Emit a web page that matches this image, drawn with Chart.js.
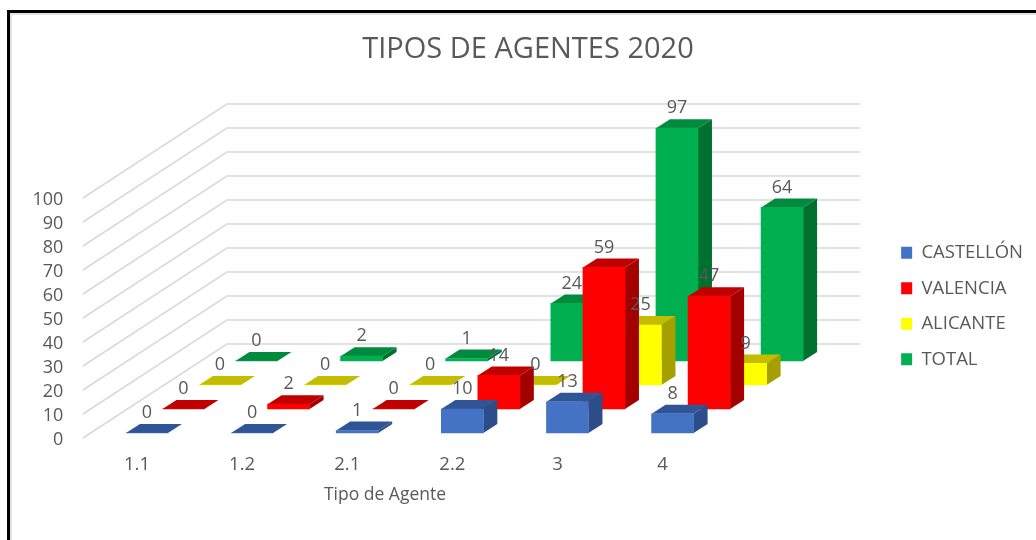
<!DOCTYPE html>
<html lang="es">
<head>
<meta charset="utf-8">
<title>Tipos de Agentes 2020</title>
<script src="https://cdn.jsdelivr.net/npm/chart.js@4"></script>
<style>
  html, body { margin: 0; padding: 0; background: #fff; }
  #wrap { position: relative; width: 1036px; height: 540px; overflow: hidden; }
  #frame {
    position: absolute; left: 7px; top: 10px; right: -10px; bottom: -10px;
    border-top: 3px solid #000; border-left: 3px solid #000;
    box-shadow: inset 2px 2px 0 #e2e2e2;
  }
  canvas { position: absolute; left: 0; top: 0; display: block; }
</style>
</head>
<body>
<div id="wrap">
  <div id="frame"></div>
  <canvas id="chart" width="1036" height="540"></canvas>
</div>
<script>
const categories = ['1.1', '1.2', '2.1', '2.2', '3', '4'];
const castellon = [0, 0, 1, 10, 13, 8];
const valencia = [0, 2, 0, 14, 59, 47];
const alicante = [0, 0, 0, 0, 25, 9];
const total = [0, 2, 1, 24, 97, 64];

const textColor = '#595959';
const fontFamily = '"Open Sans", sans-serif';

// front, top and side colour per series
const palette = [
  { front: '#4472C4', top: '#2F5597', side: '#2C4D8A' },
  { front: '#FF0000', top: '#C00000', side: '#A30000' },
  { front: '#FFFF00', top: '#C4BC00', side: '#A69F00' },
  { front: '#00B050', top: '#008A3E', side: '#00702F' },
];

// oblique projection: every series sits further back on the floor
const seriesShift = { x0: 10, y0: -5, x: 36.5, y: -24 };
const barDepth = { x: 14, y: -9 };
const wallDepth = { x: 144, y: -94 };
const wallRight = 860;

const shiftOf = (i) => ({
  x: seriesShift.x0 + seriesShift.x * i,
  y: seriesShift.y0 + seriesShift.y * i,
});

const face = (ctx, color, pts) => {
  ctx.fillStyle = color;
  ctx.beginPath();
  pts.forEach(([x, y], i) => (i ? ctx.lineTo(x, y) : ctx.moveTo(x, y)));
  ctx.closePath();
  ctx.fill();
};

const bars3d = {
  id: 'bars3d',
  afterLayout(chart) {
    // legend sits lower and a little left of where the layout puts it
    chart.legend.top += 36;
    chart.legend.bottom += 36;
    chart.legend.left -= 3;
    chart.legend.right -= 3;
  },
  beforeDatasetsDraw(chart) {
    const { ctx, scales: { y }, chartArea } = chart;
    const x0 = chartArea.left - 1.5;
    ctx.save();
    ctx.strokeStyle = '#D9D9D9';
    ctx.lineWidth = 1.5;
    y.ticks.forEach((tick) => {
      const p = y.getPixelForValue(tick.value);
      ctx.beginPath();
      ctx.moveTo(x0, p);
      ctx.lineTo(x0 + wallDepth.x, p + wallDepth.y);
      ctx.lineTo(wallRight, p + wallDepth.y);
      ctx.stroke();
    });
    ctx.restore();
  },
  beforeDatasetDraw(chart, args) {
    const { ctx } = chart;
    const shift = shiftOf(args.index);
    const colors = palette[args.index];
    ctx.save();
    ctx.translate(shift.x, shift.y);
    args.meta.data.forEach((bar) => {
      const { x, y, base, width } = bar.getProps(['x', 'y', 'base', 'width']);
      const l = x - width / 2;
      const r = x + width / 2;
      const d = barDepth;
      face(ctx, colors.side, [[r, y], [r + d.x, y + d.y], [r + d.x, base + d.y], [r, base]]);
      face(ctx, colors.top, [[l, y], [l + d.x, y + d.y], [r + d.x, y + d.y], [r, y]]);
    });
  },
  afterDatasetDraw(chart) {
    chart.ctx.restore();
  },
  afterDatasetsDraw(chart) {
    const { ctx, chartArea } = chart;
    ctx.save();
    ctx.fillStyle = textColor;
    ctx.font = `18px ${fontFamily}`;
    ctx.textAlign = 'center';
    ctx.textBaseline = 'middle';
    chart.data.datasets.forEach((ds, i) => {
      const shift = shiftOf(i);
      chart.getDatasetMeta(i).data.forEach((bar, j) => {
        ctx.fillText(String(ds.data[j]), bar.x + shift.x, bar.y + shift.y - 20);
      });
    });
    // axis title is off-centre in the original, so it can't use scale.title
    ctx.font = `17.5px ${fontFamily}`;
    ctx.fillText('Tipo de Agente', chartArea.left + 300.6, chartArea.bottom + 57);
    ctx.restore();
  },
};

const dataset = (label, data, i) => ({
  label,
  data,
  backgroundColor: palette[i].front,
  borderWidth: 0,
  barThickness: 42,
  grouped: false,
  clip: false,
});

new Chart(document.getElementById('chart'), {
  type: 'bar',
  data: {
    labels: categories,
    datasets: [
      dataset('CASTELLÓN', castellon, 0),
      dataset('VALENCIA', valencia, 1),
      dataset('ALICANTE', alicante, 2),
      dataset('TOTAL', total, 3),
    ],
  },
  plugins: [bars3d],
  options: {
    responsive: false,
    animation: false,
    layout: { padding: { left: 20 } },
    plugins: {
      tooltip: { enabled: false },
      title: {
        display: true,
        text: 'TIPOS DE AGENTES 2020',
        color: textColor,
        font: { family: fontFamily, size: 29, weight: 'normal', lineHeight: 1.2 },
        padding: { top: 32.5, bottom: 130.7 },
      },
      legend: {
        position: 'right',
        labels: {
          color: textColor,
          font: { family: fontFamily, size: 18.5 },
          boxWidth: 11,
          boxHeight: 12,
          padding: 17,
        },
      },
    },
    scales: {
      x: {
        grid: { display: false, drawTicks: false },
        border: { display: false },
        ticks: { color: textColor, font: { family: fontFamily, size: 18.5 }, padding: 16 },
        afterFit(scale) { scale.height = 102; },
      },
      y: {
        min: 0,
        max: 100,
        grid: { display: false, drawTicks: false },
        border: { display: false },
        ticks: {
          stepSize: 10,
          autoSkip: false,
          color: textColor,
          font: { family: fontFamily, size: 18 },
          padding: 21,
          labelOffset: 2,
        },
        afterFit(scale) { scale.width = 64.4; },
      },
      // empty axis: keeps the plot clear of the right-hand legend
      gap: {
        type: 'linear',
        position: 'right',
        grid: { display: false, drawTicks: false },
        border: { display: false },
        ticks: { display: false },
        afterFit(scale) { scale.width = 172; },
      },
    },
  },
});
</script>
</body>
</html>
